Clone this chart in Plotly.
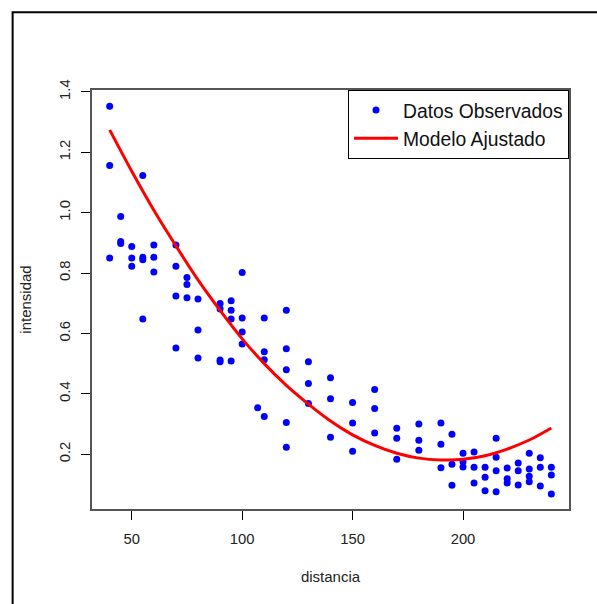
import plotly.graph_objects as go

# Observed data (distancia, intensidad)
distancia = [
    40, 40, 40,
    45, 45, 45,
    50, 50, 50,
    55, 55, 55, 55,
    60, 60, 60,
    70, 70, 70, 70,
    75, 75, 75,
    80, 80, 80,
    90, 90, 90, 90,
    95, 95, 95, 95,
    100, 100, 100, 100,
    107,
    110, 110, 110, 110,
    120, 120, 120, 120, 120,
    130, 130, 130,
    140, 140, 140,
    150, 150, 150,
    160, 160, 160,
    170, 170, 170,
    180, 180, 180,
    190, 190, 190,
    195, 195, 195,
    200, 200, 200,
    205, 205, 205,
    210, 210, 210,
    215, 215, 215, 215,
    220, 220, 220,
    225, 225, 225,
    230, 230, 230, 230,
    235, 235, 235,
    240, 240, 240,
]
intensidad = [
    1.352, 1.156, 0.850,
    0.987, 0.904, 0.898,
    0.888, 0.850, 0.822,
    1.123, 0.852, 0.844, 0.648,
    0.893, 0.852, 0.803,
    0.893, 0.822, 0.724, 0.552,
    0.785, 0.762, 0.718,
    0.714, 0.611, 0.519,
    0.699, 0.681, 0.512, 0.506,
    0.708, 0.677, 0.648, 0.509,
    0.802, 0.651, 0.605, 0.565,
    0.354,
    0.651, 0.539, 0.513, 0.325,
    0.677, 0.549, 0.480, 0.305, 0.223,
    0.506, 0.434, 0.368,
    0.453, 0.384, 0.256,
    0.371, 0.303, 0.210,
    0.414, 0.351, 0.270,
    0.286, 0.253, 0.183,
    0.300, 0.246, 0.213,
    0.303, 0.233, 0.155,
    0.266, 0.167, 0.097,
    0.203, 0.175, 0.158,
    0.207, 0.157, 0.105,
    0.157, 0.124, 0.079,
    0.253, 0.190, 0.145, 0.076,
    0.154, 0.119, 0.105,
    0.171, 0.145, 0.098,
    0.203, 0.151, 0.127, 0.109,
    0.188, 0.157, 0.095,
    0.157, 0.131, 0.068,
]

# Fitted model curve
modelo_x = [40, 50, 60, 70, 80, 90, 100, 110, 120, 130, 140, 150,
            160, 170, 180, 190, 200, 210, 220, 230, 240]
modelo_y = [1.274, 1.137, 1.008, 0.890, 0.777, 0.676, 0.582, 0.500, 0.428,
            0.366, 0.310, 0.264, 0.229, 0.203, 0.187, 0.181, 0.183,
            0.195, 0.217, 0.247, 0.287]

x_ticks = [50, 100, 150, 200]
y_ticks = [0.2, 0.4, 0.6, 0.8, 1.0, 1.2, 1.4]

FONT = "Liberation Sans, Arial, sans-serif"

fig = go.Figure()
fig.add_trace(go.Scatter(
    x=distancia, y=intensidad, mode="markers", name="Datos Observados",
    marker=dict(color="#0000FF", size=7, line=dict(width=0)),
))
fig.add_trace(go.Scatter(
    x=modelo_x, y=modelo_y, mode="lines", name="Modelo Ajustado",
    line=dict(color="#FF0000", width=3, shape="spline"),
))

fig.update_layout(
    width=597, height=604,
    margin=dict(l=92, r=28, t=90, b=95, pad=0),
    paper_bgcolor="white", plot_bgcolor="white",
    font=dict(family=FONT, color="#222222", size=15),
    showlegend=True,
    legend=dict(
        x=1, y=1, xanchor="right", yanchor="top",
        bgcolor="white", bordercolor="#000000", borderwidth=1,
        font=dict(family=FONT, size=19.3, color="#111111"),
        itemwidth=44, tracegroupgap=0,
    ),
    xaxis=dict(
        range=[32, 248], tickvals=x_ticks, ticktext=[str(v) for v in x_ticks],
        ticks="outside", ticklen=9, tickcolor="#000000", tickwidth=1,
        showline=True, linecolor="#555555", linewidth=1.5, mirror=True,
        showgrid=False, zeroline=False, ticklabelstandoff=6,
        tickfont=dict(family=FONT, size=14.8, color="#222222"),
        title=dict(text="distancia", font=dict(family=FONT, size=15, color="#222222"), standoff=26),
        automargin=False,
    ),
    yaxis=dict(
        range=[0.0186, 1.406], tickvals=y_ticks, ticktext=[f"{v:.1f}" for v in y_ticks],
        ticks="outside", ticklen=9, tickcolor="#000000", tickwidth=1,
        showline=True, linecolor="#555555", linewidth=1.5, mirror=True,
        showgrid=False, zeroline=False, tickangle=-90, ticklabelstandoff=5,
        tickfont=dict(family=FONT, size=14.8, color="#222222"),
        title=dict(text="intensidad", font=dict(family=FONT, size=15, color="#222222"), standoff=22),
        automargin=False,
    ),
    shapes=[dict(
        type="rect", xref="paper", yref="paper",
        x0=-0.1664, x1=1.3, y0=-0.4, y1=1.1855,
        line=dict(color="#000000", width=2), fillcolor="rgba(0,0,0,0)", layer="above",
    )],
)

fig.write_html("out.html")
